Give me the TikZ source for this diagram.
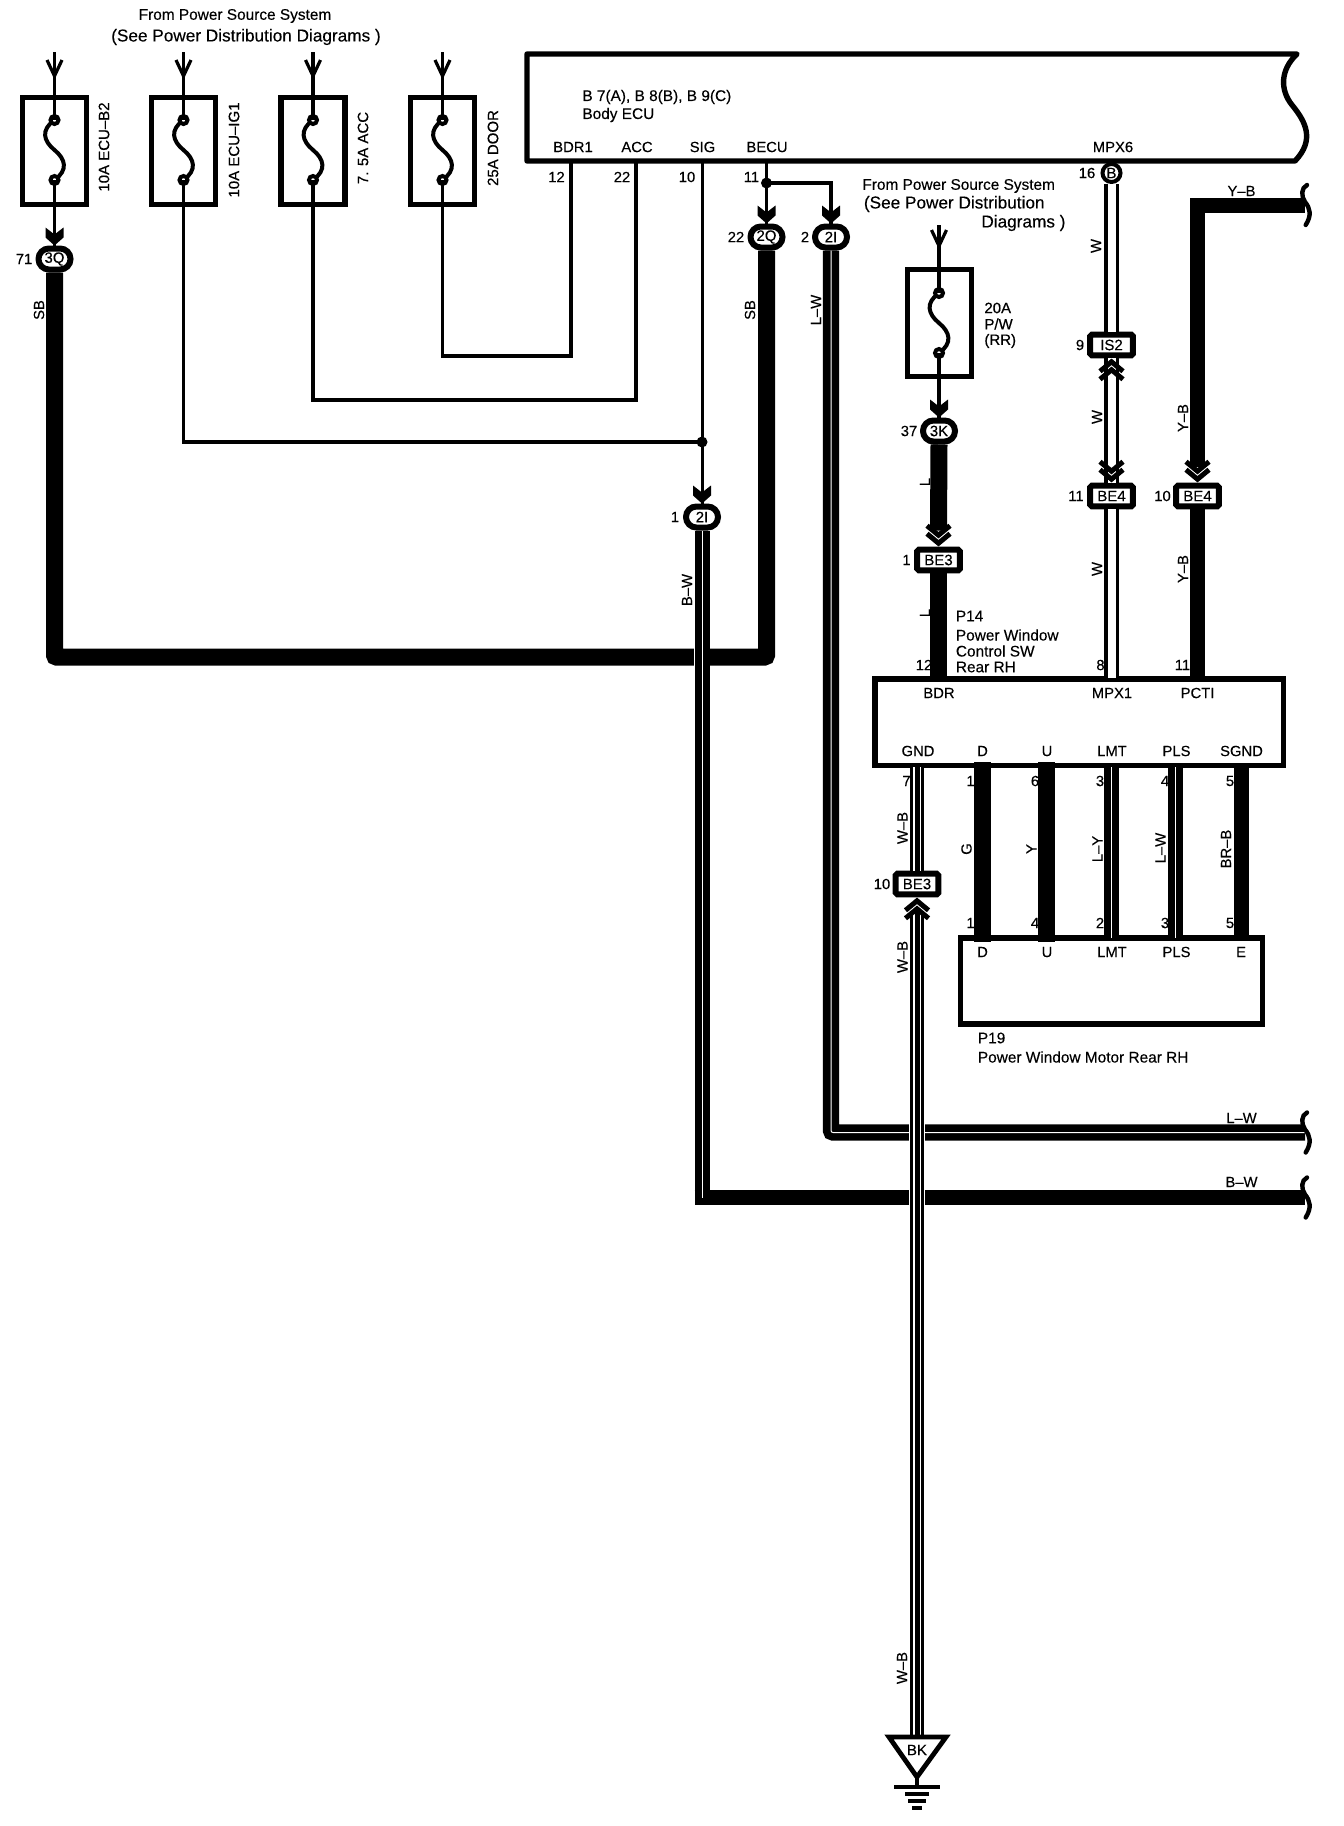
\documentclass[tikz,border=0pt]{standalone}
\usepackage{fontspec}
\setmainfont{Liberation Sans}
\newfontfamily\wdfont[FakeBold=0.25]{Liberation Sans}
\newfontfamily\wdheavy[FakeBold=0.6]{Liberation Sans}
\usetikzlibrary{positioning}
\tikzset{
  lbl/.style={font=\wdfont\fontsize{7.7}{9}\selectfont,inner sep=0pt},
  lblwide/.style={font=\wdfont\fontsize{8.6}{10}\selectfont,inner sep=0pt},
  lblheavy/.style={font=\wdheavy\fontsize{7.5}{9}\selectfont,inner sep=0pt},
  pinlbl/.style={font=\wdfont\fontsize{7.4}{8}\selectfont,inner sep=0pt},
  wirelbl/.style={font=\wdfont\fontsize{7.4}{8}\selectfont,inner sep=0pt,rotate=90},
  fusebox/.style={draw,line width=2.6pt,fill=white,minimum width=32pt,minimum height=53.5pt,inner sep=0pt},
  oconn/.style={draw,line width=3pt,fill=white,rounded corners=5.2pt,minimum width=16pt,minimum height=10.5pt,inner sep=0pt,font=\wdfont\fontsize{7.5}{8}\selectfont},
  bconn/.style={draw,line width=3pt,fill=white,rounded corners=0.8pt,minimum width=21.3pt,minimum height=10.3pt,inner sep=0pt,font=\wdfont\fontsize{7.5}{8}\selectfont},
  dot/.style={circle,fill,minimum size=5.5pt,inner sep=0pt},
  thinw/.style={line width=1.8pt},
  sigw/.style={line width=1.5pt},
  solw/.style={line width=8.5pt},
  sol2w/.style={line width=7.5pt},
  stripew/.style={line width=3.5pt,double=white,double distance=0.5pt},
  hollow/.style={line width=1.6pt,double=white,double distance=4pt},
  corew/.style={line width=2.5pt},
  halo/.style={white,line width=8pt},
  fusesym/.pic={
    \coordinate (-top) at (0,-30);
    \coordinate (-bot) at (0,30);
    \draw[line width=2pt] (0,-30) .. controls (-14,-20) and (-11,-9) .. (0,0) .. controls (11,9) and (14,20) .. (0,30);
    \draw[line width=2pt,fill=white] (0,-30) circle (2pt);
    \draw[line width=2pt,fill=white] (0,30) circle (2pt);
  },
  feedarrow/.pic={
    \draw[line width=1.6pt] (-7.5,-15) -- (0,1) -- (7.5,-15);
  },
  fatchev/.pic={
    \fill (-9,-18) -- (0,-11) -- (9,-18) -- (9,-8) -- (0,0) -- (-9,-8) -- cycle;
  },
  dblchev/.pic={
    \draw[line width=2.5pt] (-11.5,-13) -- (0,-3.5) -- (11.5,-13);
    \draw[line width=2.5pt] (-11.5,-21) -- (0,-11.5) -- (11.5,-21);
  },
  wireend/.pic={
    \draw[line width=2.2pt,line cap=round] (2,-20) .. controls (-4,-17) and (-4,-9) .. (0,-3) .. controls (5,3) and (7,10) .. (0.7,20);
  }
}

\begin{document}
\begin{tikzpicture}[x=0.5pt,y=-0.5pt]
\useasboundingbox (0,0) rectangle (1344,1826);

% fuses at the top left
\node[fusebox] (fuse1) at (54.5,151) {};
\node[fusebox] (fuse2) at (183.5,151) {};
\node[fusebox] (fuse3) at (313,151) {};
\node[fusebox] (fuse4) at (442.5,151) {};
\node[fusebox] (fuse5) at (939.5,323) {};
\pic (f1) at (54.5,150) {fusesym};
\pic (f2) at (183.5,150) {fusesym};
\pic (f3) at (313,150) {fusesym};
\pic (f4) at (442.5,150) {fusesym};
\pic (f5) at (939,323) {fusesym};

\coordinate (feed1) at (54.5,52);
\coordinate (feed2) at (183.5,52);
\coordinate (feed3) at (313,52);
\coordinate (feed4) at (442.5,52);
\coordinate (feed5) at (939,225);
\draw[thinw] (feed1) -- (f1-top);
\draw[thinw] (feed2) -- (f2-top);
\draw[thinw] (feed3) -- (f3-top);
\draw[thinw] (feed4) -- (f4-top);
\draw[thinw] (feed5) -- (f5-top);
\pic at (54.5,75) {feedarrow};
\pic at (183.5,75) {feedarrow};
\pic at (313,75) {feedarrow};
\pic at (442.5,75) {feedarrow};
\pic at (939,245) {feedarrow};

\node[lbl] (srcA) at (235,16) {From Power Source System};
\node[lblwide] (srcB) at (246,37) {(See Power Distribution Diagrams )};
\node[lblheavy,rotate=90] (lblB2) at (104,147) {10A ECU–B2};
\node[lblheavy,rotate=90] (lblIG1) at (234,150) {10A ECU–IG1};
\node[lblheavy,rotate=90] (lblACC) at (363,148) {7. 5A ACC};
\node[lblheavy,rotate=90] (lblDOOR) at (493,148) {25A DOOR};

% body ECU
\draw[line width=2.7pt,line join=round] (527,54) -- (1297,54) .. controls (1280,70) and (1280,90) .. (1292,105) .. controls (1306,122) and (1315,140) .. (1295,161) -- (527,161) -- cycle;
\node[lbl,anchor=west] (ecuA) at (582,97) {B 7(A), B 8(B), B 9(C)};
\node[lbl,anchor=west] (ecuB) at (582,115) {Body ECU};
\node[pinlbl] (nBDR1) at (573,147) {BDR1};
\node[pinlbl] (nACC) at (637,147) {ACC};
\node[pinlbl] (nSIG) at (702.5,147) {SIG};
\node[pinlbl] (nBECU) at (767,147) {BECU};
\node[pinlbl] (nMPX6) at (1113,147) {MPX6};
\node[pinlbl] (p12) at (556.5,177) {12};
\node[pinlbl] (p22) at (622,177) {22};
\node[pinlbl] (p10) at (687,177) {10};
\node[pinlbl] (p11) at (751.5,177) {11};
\node[pinlbl] (p16) at (1087,173) {16};
\coordinate (ecuBDR) at (571,162);
\coordinate (ecuACC) at (636,162);
\coordinate (ecuSIG) at (702,162);
\coordinate (ecuBECU) at (766.5,162);

% inline connectors
\node[oconn] (c3Q) at (54.5,259) {3Q};
\node[oconn] (c2Q) at (766.5,237) {2Q};
\node[oconn] (c2Ia) at (831,237) {2I};
\node[oconn] (c2Ib) at (702,517) {2I};
\node[oconn] (c3K) at (939,431) {3K};
\node[draw,circle,line width=2pt,fill=white,minimum size=9pt,inner sep=0pt,font=\wdfont\fontsize{7.5}{8}\selectfont] (cB) at (1111.5,173) {B};
\node[bconn] (cIS2) at (1111.5,345) {IS2};
\node[bconn] (cBE4a) at (1111.5,496) {BE4};
\node[bconn] (cBE4b) at (1197.5,496) {BE4};
\node[bconn] (cBE3a) at (938.5,560) {BE3};
\node[bconn] (cBE3b) at (917,884) {BE3};
\node[pinlbl] (n71) at (24,259) {71};
\node[pinlbl] (n22) at (736,237) {22};
\node[pinlbl] (n2) at (805,237) {2};
\node[pinlbl] (n1) at (675,517) {1};
\node[pinlbl] (n37) at (909,431) {37};
\node[pinlbl] (n9) at (1080,345) {9};
\node[pinlbl] (n11a) at (1076,496) {11};
\node[pinlbl] (n10a) at (1162.5,496) {10};
\node[pinlbl] (n1b) at (906.5,560) {1};
\node[pinlbl] (n10b) at (882,884) {10};

% thin wires to the ECU
\coordinate (turn3) at (636,400);
\coordinate (turn4) at (571,356);
\node[dot] (jSIG) at (702,442) {};
\node[dot] (jBECU) at (766.5,183) {};
\draw[thinw] (f1-bot) -- (c3Q.north);
\draw[thinw] (f2-bot) |- (jSIG.center);
\draw[thinw] (f3-bot) |- (turn3) -- (ecuACC);
\draw[thinw] (f4-bot) |- (turn4) -- (ecuBDR);
\draw[thinw] (f5-bot) -- (c3K.north);
\draw[sigw] (ecuSIG) -- (c2Ib.north);
\draw[thinw] (ecuBECU) -- (c2Q.north);
\draw[thinw] (jBECU.center) -| (c2Ia.north);
\pic at (c3Q.north) {fatchev};
\pic at (c2Q.north) {fatchev};
\pic at (c2Ia.north) {fatchev};
\pic at (c2Ib.north) {fatchev};
\pic at (c3K.north) {fatchev};

% fuse 5 text
\node[lbl,anchor=west] (srcC) at (862,186) {From Power Source System};
\node[lblwide,anchor=west] (srcD) at (863.5,204) {(See Power Distribution};
\node[lblwide,anchor=west] (srcE) at (981,223) {Diagrams )};
\node[lblheavy,anchor=west] (f5a) at (984,308) {20A};
\node[lblheavy,anchor=west] (f5b) at (984,324) {P/W};
\node[lblheavy,anchor=west] (f5c) at (984,341) {(RR)};

% power window switch and motor
\node[draw,line width=2.7pt,fill=white,minimum width=204.3pt,minimum height=43.3pt,inner sep=0pt] (swbox) at (1079.2,722.3) {};
\node[draw,line width=2.7pt,fill=white,minimum width=151pt,minimum height=43pt,inner sep=0pt] (mtbox) at (1111.7,981) {};

% heavy wires
\coordinate (sbL) at (54.5,657);
\coordinate (sbR) at (766.5,657);
\draw[solw,rounded corners=1pt] (c3Q.south) -- (sbL) -- (sbR) -- (c2Q.south);
\coordinate (lwC) at (831,1132.5);
\coordinate (lwE) at (1305,1132.5);
\draw[stripew,line width=3.8pt,rounded corners=1pt] (c2Ia.south) -- (lwC) -- (lwE);
\coordinate (bwC) at (702,1197.5);
\coordinate (bwL) at (694.5,1197.5);
\coordinate (bwE) at (1305,1197.5);
\draw[white,line width=8.4pt] (c2Ib.south) -- (702,700);
\draw[sol2w] (bwL) -- (bwE);
\draw[stripew] (c2Ib.south) -- (bwC);
\coordinate (ybC) at (1197.5,205);
\coordinate (ybE) at (1305,205);
\draw[sol2w] (ybE) -- (ybC) -- ([yshift=8pt]cBE4b.north);
\draw[sol2w] (cBE4b.south) -- (1197.5,679);
\draw[hollow] (cB.south) -- (cIS2.north);
\draw[hollow] (cIS2.south) -- (cBE4a.north);
\draw[hollow] (cBE4a.south) -- (1111.5,678);
\draw[solw] (c3K.south) -- ([yshift=8pt]cBE3a.north);
\draw[solw] (cBE3a.south) -- (938.5,682);
\pic at (cBE3a.north) {dblchev};
\pic at (cBE4a.north) {dblchev};
\pic at (cBE4b.north) {dblchev};
\pic[rotate=180] at (cIS2.south) {dblchev};
\pic (e1) at (ybE) {wireend};
\pic (e2) at (lwE) {wireend};
\pic (e3) at (bwE) {wireend};

% wire labels, upper part
\node[wirelbl] (wSB1) at (39,310) {SB};
\node[wirelbl] (wSB2) at (750,310) {SB};
\node[wirelbl] (wLW) at (816,310) {L–W};
\node[wirelbl] (wBW) at (687,590) {B–W};
\node[wirelbl] (wW1) at (1096,246) {W};
\node[wirelbl] (wW2) at (1097,417) {W};
\node[wirelbl] (wW3) at (1097,569) {W};
\node[wirelbl] (wYB1) at (1183,418) {Y–B};
\node[wirelbl] (wYB2) at (1183,569) {Y–B};
\node[wirelbl] (wL1) at (925,482) {L};
\node[wirelbl] (wL2) at (925,613) {L};
\node[pinlbl] (wYB3) at (1241.5,191) {Y–B};
\node[pinlbl] (wLW2) at (1241.5,1118) {L–W};
\node[pinlbl] (wBW2) at (1241.5,1182) {B–W};

\node[lbl,anchor=west] (p14a) at (955.5,616) {P14};
\node[lbl,anchor=west] (p14b) at (955.5,635) {Power Window};
\node[lbl,anchor=west] (p14c) at (955.5,651) {Control SW};
\node[lbl,anchor=west] (p14d) at (955.5,667) {Rear RH};
\node[pinlbl] (s12) at (924,665) {12};
\node[pinlbl] (s8) at (1100.5,665) {8};
\node[pinlbl] (s11) at (1182.5,665) {11};
\node[pinlbl] (nBDR) at (939,693) {BDR};
\node[pinlbl] (nMPX1) at (1112,693) {MPX1};
\node[pinlbl] (nPCTI) at (1197.5,693) {PCTI};
\node[pinlbl] (nGND) at (918,751) {GND};
\node[pinlbl] (nD) at (982.5,751) {D};
\node[pinlbl] (nU) at (1047,751) {U};
\node[pinlbl] (nLMT) at (1112,751) {LMT};
\node[pinlbl] (nPLS) at (1176.5,751) {PLS};
\node[pinlbl] (nSGND) at (1241.5,751) {SGND};

\coordinate (swGND) at (917,767);
\coordinate (swD) at (982.5,762);
\coordinate (swU) at (1046.5,762);
\coordinate (swLMT) at (1111.5,767);
\coordinate (swPLS) at (1175.5,767);
\coordinate (swSGND) at (1241.5,767);
\coordinate (mtD) at (982.5,942);
\coordinate (mtU) at (1046.5,942);
\coordinate (mtLMT) at (1111.5,938);
\coordinate (mtPLS) at (1175.5,938);
\coordinate (mtE) at (1241.5,938);
\draw[solw] (swD) -- (mtD);
\draw[solw] (swU) -- (mtU);
\draw[stripew] (swLMT) -- (mtLMT);
\draw[stripew] (swPLS) -- (mtPLS);
\draw[sol2w] (swSGND) -- (mtE);

\node[pinlbl] (t7) at (906.5,781) {7};
\node[pinlbl] (t1) at (970.5,781) {1};
\node[pinlbl] (t6) at (1035,781) {6};
\node[pinlbl] (t3) at (1100,781) {3};
\node[pinlbl] (t4) at (1165,781) {4};
\node[pinlbl] (t5) at (1230,781) {5};
\node[pinlbl] (b1) at (970.5,923) {1};
\node[pinlbl] (b4) at (1035,923) {4};
\node[pinlbl] (b2) at (1100,923) {2};
\node[pinlbl] (b3) at (1165,923) {3};
\node[pinlbl] (b5) at (1230,923) {5};
\node[pinlbl] (mD) at (982.5,952) {D};
\node[pinlbl] (mU) at (1047,952) {U};
\node[pinlbl] (mLMT) at (1112,952) {LMT};
\node[pinlbl] (mPLS) at (1176.5,952) {PLS};
\node[pinlbl] (mE) at (1241,952) {E};
\node[lbl,anchor=west] (p19a) at (977.5,1038) {P19};
\node[lbl,anchor=west] (p19b) at (977.5,1057) {Power Window Motor Rear RH};

\node[wirelbl] (wG) at (966.5,849) {G};
\node[wirelbl] (wY) at (1031.5,849) {Y};
\node[wirelbl] (wLY) at (1097.5,849) {L–Y};
\node[wirelbl] (wLW3) at (1160.5,848) {L–W};
\node[wirelbl] (wBRB) at (1226,849) {BR–B};
\node[wirelbl] (wWB1) at (902.5,828) {W–B};
\node[wirelbl] (wWB2) at (902.5,957) {W–B};
\node[wirelbl] (wWB3) at (902,1668) {W–B};

% ground wire and earth
\coordinate (gndL) at (889,1737);
\coordinate (gndR) at (946,1737);
\coordinate (gndA) at (917,1777);
\coordinate (gndS) at (917,1787);
\node[font=\wdfont\fontsize{7.5}{8}\selectfont,inner sep=0pt] (nBK) at (917,1750) {BK};
\draw[halo] (917,1110) -- (917,1220);
\draw[hollow,line width=1.35pt,double distance=4.3pt] (swGND) -- (cBE3b.north);
\draw[corew] (swGND) -- (cBE3b.north);
\draw[hollow,line width=1.35pt,double distance=4.3pt] ([yshift=-7.5pt]cBE3b.south) -- (917,1736);
\draw[corew] ([yshift=-7.5pt]cBE3b.south) -- (917,1736);
\pic[rotate=180] at (cBE3b.south) {dblchev};
\draw[line width=2.4pt,line join=miter] (gndL) -- (gndR) -- (gndA) -- cycle;
\draw[line width=1.6pt] (gndA) -- (gndS);
\draw[line width=1.8pt] (894,1787) -- (940,1787);
\draw[line width=1.8pt] (905,1794) -- (929,1794);
\draw[line width=1.8pt] (908,1801) -- (926,1801);
\draw[line width=1.8pt] (912,1808) -- (922,1808);
\end{tikzpicture}
\end{document}
